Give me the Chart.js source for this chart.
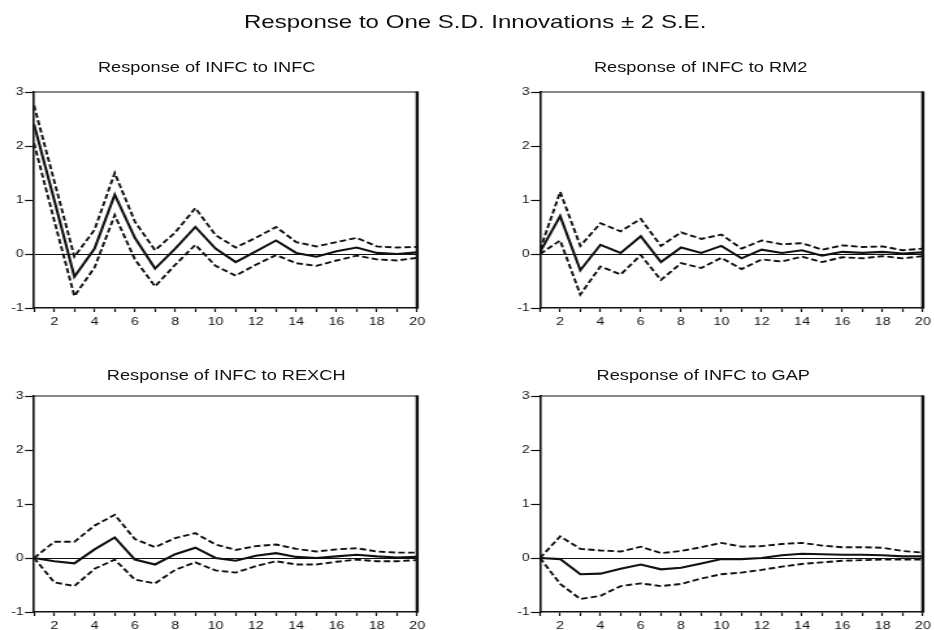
<!DOCTYPE html>
<html>
<head>
<meta charset="utf-8">
<script src="https://cdn.jsdelivr.net/npm/chart.js@4/dist/chart.umd.min.js"></script>
<style>
  html, body { margin: 0; padding: 0; background: #fff; width: 934px; height: 630px; overflow: hidden; }
  /* the whole figure is laid out narrow and widened horizontally */
  #fig { position: absolute; left: 0; top: 0; width: 720px; height: 630px; transform: scaleX(1.3); transform-origin: 0 0; }
  .ttl { position: absolute; font-family: "Liberation Sans", Arial, sans-serif; color: #111; text-align: center; line-height: 1; white-space: nowrap; }
  canvas { position: absolute; }
</style>
</head>
<body>
<div id="fig">
  <div class="ttl" style="left:0; width:731px; top:13px; font-size:18.5px;">Response to One S.D. Innovations ± 2 S.E.</div>
  <div class="ttl" style="left:9px; width:300px; top:60px; font-size:14px;">Response of INFC to INFC</div>
  <div class="ttl" style="left:389px; width:300px; top:60px; font-size:14px;">Response of INFC to RM2</div>
  <div class="ttl" style="left:24px; width:300px; top:368px; font-size:14px;">Response of INFC to REXCH</div>
  <div class="ttl" style="left:391px; width:300px; top:368px; font-size:14px;">Response of INFC to GAP</div>
  <canvas id="c1" width="330" height="244" style="left:0px; top:82px;"></canvas>
  <canvas id="c2" width="330" height="244" style="left:389px; top:82px;"></canvas>
  <canvas id="c3" width="330" height="244" style="left:0px; top:386px;"></canvas>
  <canvas id="c4" width="330" height="244" style="left:389px; top:386px;"></canvas>
</div>
<script>
// Horizon (periods after the shock)
const periods = [1, 2, 3, 4, 5, 6, 7, 8, 9, 10, 11, 12, 13, 14, 15, 16, 17, 18, 19, 20];
const yTicks = [-1, 0, 1, 2, 3];

// Response of INFC to INFC
const infcResp  = [2.40, 1.00, -0.42, 0.10, 1.10, 0.30, -0.27, 0.10, 0.50, 0.10, -0.15, 0.05, 0.25, 0.02, -0.05, 0.05, 0.12, 0.02, 0.00, 0.03];
const infcUpper = [2.75, 1.35, -0.05, 0.45, 1.50, 0.60, 0.07, 0.40, 0.85, 0.35, 0.12, 0.30, 0.50, 0.22, 0.14, 0.22, 0.30, 0.14, 0.12, 0.13];
const infcLower = [2.05, 0.62, -0.78, -0.25, 0.72, -0.10, -0.60, -0.20, 0.17, -0.22, -0.40, -0.20, -0.02, -0.17, -0.22, -0.12, -0.03, -0.10, -0.12, -0.07];

// Response of INFC to RM2
const rm2Resp  = [0.04, 0.70, -0.30, 0.17, 0.02, 0.33, -0.15, 0.12, 0.02, 0.15, -0.08, 0.08, 0.02, 0.07, -0.03, 0.04, 0.02, 0.04, 0.01, 0.03];
const rm2Upper = [0.08, 1.15, 0.15, 0.57, 0.42, 0.65, 0.15, 0.40, 0.28, 0.36, 0.10, 0.25, 0.18, 0.20, 0.08, 0.16, 0.13, 0.14, 0.07, 0.10];
const rm2Lower = [0.00, 0.25, -0.75, -0.23, -0.38, -0.02, -0.48, -0.17, -0.26, -0.07, -0.28, -0.10, -0.14, -0.05, -0.15, -0.06, -0.08, -0.04, -0.08, -0.04];

// Response of INFC to REXCH
const rexResp  = [0.00, -0.06, -0.10, 0.16, 0.38, -0.03, -0.12, 0.07, 0.19, 0.00, -0.05, 0.04, 0.09, 0.02, 0.00, 0.03, 0.06, 0.03, 0.01, 0.02];
const rexUpper = [0.00, 0.30, 0.30, 0.60, 0.80, 0.35, 0.20, 0.37, 0.46, 0.25, 0.15, 0.22, 0.25, 0.17, 0.12, 0.16, 0.18, 0.12, 0.10, 0.10];
const rexLower = [0.00, -0.45, -0.52, -0.20, -0.03, -0.40, -0.47, -0.22, -0.08, -0.23, -0.27, -0.15, -0.06, -0.12, -0.12, -0.07, -0.03, -0.06, -0.06, -0.04];

// Response of INFC to GAP
const gapResp  = [0.00, -0.02, -0.30, -0.29, -0.20, -0.12, -0.21, -0.18, -0.10, -0.02, -0.02, 0.00, 0.05, 0.08, 0.07, 0.06, 0.06, 0.05, 0.03, 0.03];
const gapUpper = [0.00, 0.40, 0.17, 0.14, 0.12, 0.21, 0.09, 0.13, 0.20, 0.28, 0.21, 0.22, 0.26, 0.28, 0.23, 0.20, 0.20, 0.19, 0.13, 0.10];
const gapLower = [0.00, -0.48, -0.76, -0.70, -0.52, -0.47, -0.52, -0.48, -0.38, -0.30, -0.27, -0.22, -0.16, -0.11, -0.08, -0.05, -0.04, -0.03, -0.03, -0.03];

const FONT = '"Liberation Sans", Arial, sans-serif';
const INK = '#111';

// top and right edges of the plotting box (right edge is heavier)
const framePlugin = {
  id: 'frame',
  afterDraw(chart) {
    const { ctx, chartArea: a } = chart;
    ctx.save();
    ctx.strokeStyle = INK;
    ctx.lineWidth = 1.2;
    ctx.beginPath();
    ctx.moveTo(a.left, a.top);
    ctx.lineTo(a.right, a.top);
    ctx.stroke();
    ctx.lineWidth = 2.4;
    ctx.beginPath();
    ctx.moveTo(a.right, a.top - 0.6);
    ctx.lineTo(a.right, a.bottom + 0.8);
    ctx.stroke();
    ctx.restore();
  }
};

function toPoints(vals) {
  return periods.map((p, i) => ({ x: p, y: vals[i] }));
}

function panel(id, resp, upper, lower, yAxisWidth, padRight) {
  const band = {
    borderColor: INK, borderWidth: 1.9, borderDash: [5, 2.5],
    pointRadius: 0, tension: 0, fill: false
  };
  new Chart(document.getElementById(id), {
    type: 'line',
    data: {
      datasets: [
        Object.assign({ label: 'upper', data: toPoints(upper) }, band),
        { label: 'response', data: toPoints(resp), borderColor: INK, borderWidth: 2.1,
          pointRadius: 0, tension: 0, fill: false },
        Object.assign({ label: 'lower', data: toPoints(lower) }, band)
      ]
    },
    options: {
      responsive: false,
      animation: false,
      events: [],
      layout: { padding: { top: 10, right: padRight, left: 0, bottom: 0 } },
      plugins: { legend: { display: false }, tooltip: { enabled: false }, title: { display: false } },
      scales: {
        x: {
          type: 'linear', min: 1, max: 20,
          afterFit(s) { s.height = 18; },
          afterBuildTicks(s) { s.ticks = periods.map(v => ({ value: v })); },
          ticks: {
            autoSkip: false, maxRotation: 0, padding: 3, color: INK,
            font: { family: FONT, size: 11 },
            callback: v => (v % 2 === 0 ? String(v) : '')
          },
          grid: { drawOnChartArea: false, drawTicks: true, tickLength: 4, tickColor: INK, tickWidth: 1.2 },
          border: { display: true, color: INK, width: 1.6 }
        },
        y: {
          min: -1, max: 3,
          afterFit(s) { s.width = yAxisWidth; },
          afterBuildTicks(s) { s.ticks = yTicks.map(v => ({ value: v })); },
          ticks: { padding: 1, color: INK, font: { family: FONT, size: 10.5 } },
          grid: {
            drawOnChartArea: true, drawTicks: true, tickLength: 7,
            color: c => (c.tick && c.tick.value === 0 ? INK : 'rgba(0,0,0,0)'),
            lineWidth: 1, tickColor: INK, tickWidth: 1.2
          },
          border: { display: true, color: INK, width: 1.6 }
        }
      }
    },
    plugins: [framePlugin]
  });
}

panel('c1', infcResp, infcUpper, infcLower, 26.2, 8.5);
panel('c2', rm2Resp, rm2Upper, rm2Lower, 26.4, 8.2);
panel('c3', rexResp, rexUpper, rexLower, 26.2, 8.5);
panel('c4', gapResp, gapUpper, gapLower, 26.4, 8.2);
</script>
</body>
</html>
